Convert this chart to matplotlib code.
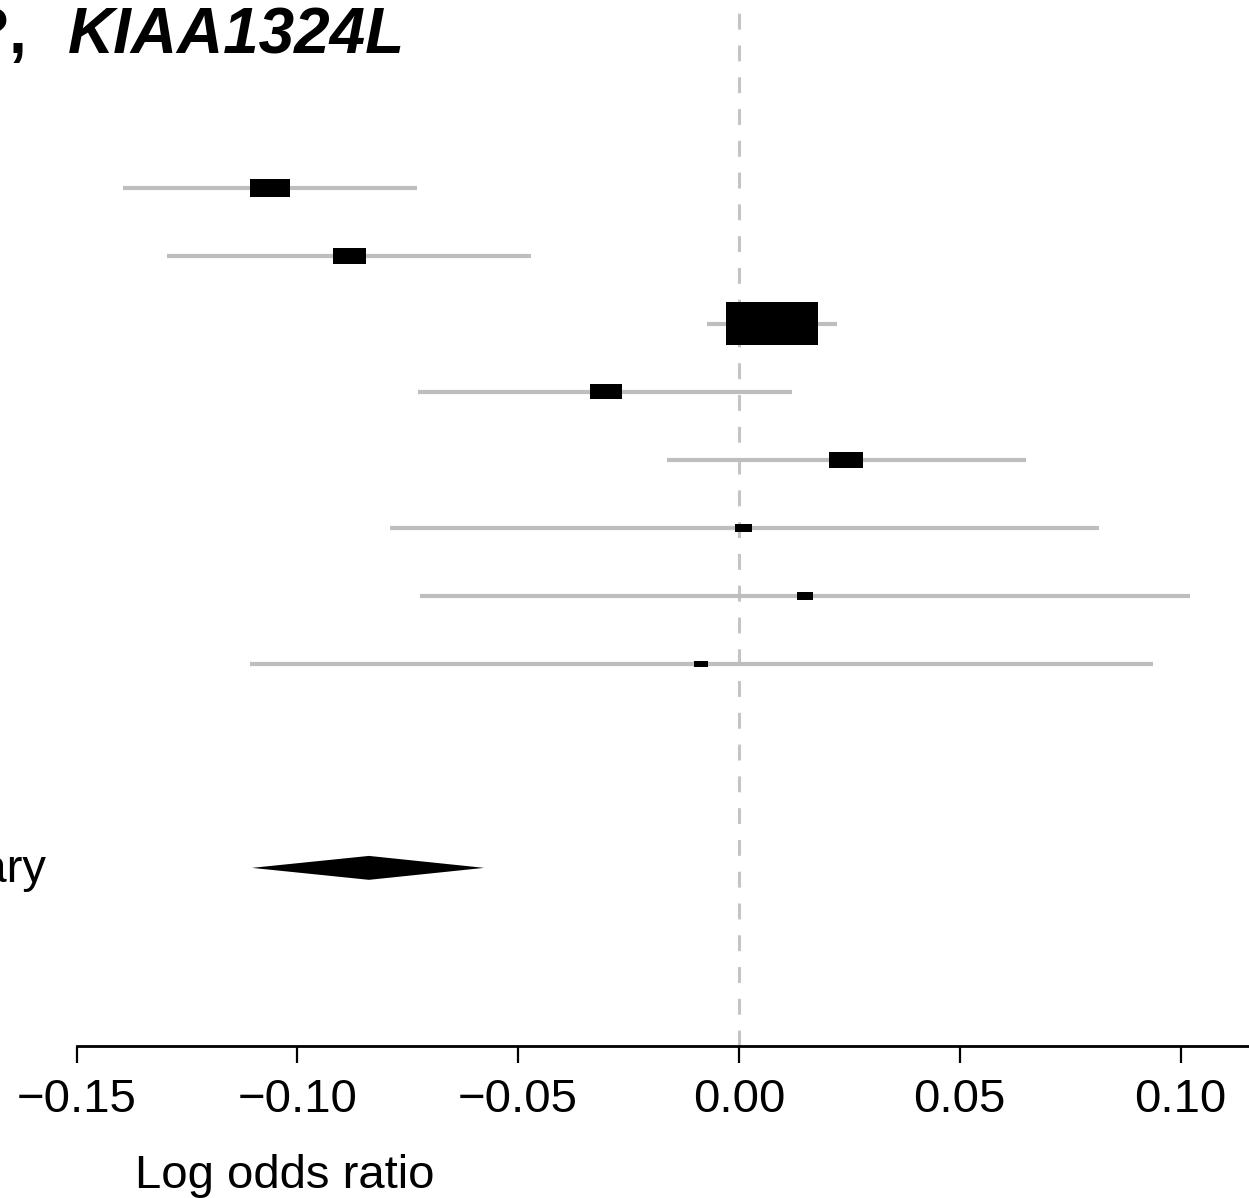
import numpy as np
import matplotlib
matplotlib.use("Agg")
import matplotlib.pyplot as plt
from matplotlib.patches import Rectangle, Polygon

plt.rcParams['font.family'] = ['Liberation Sans', 'DejaVu Sans']

# study estimates (log odds ratio) and 95% CI
est = [-0.1062, -0.0882, 0.0075, -0.0302, 0.0242, 0.0011, 0.0149, -0.0086]
lo = [-0.1395, -0.1295, -0.0072, -0.0727, -0.0163, -0.0790, -0.0722, -0.1107]
hi = [-0.0729, -0.0471, 0.0222, 0.0120, 0.0650, 0.0815, 0.1021, 0.0938]

# summary estimate
sum_est = -0.0838
sum_lo = -0.1103
sum_hi = -0.0577

xticks = [-0.15, -0.10, -0.05, 0.00, 0.05, 0.10]
xticklabels = ["\u22120.15", "\u22120.10", "\u22120.05", "0.00", "0.05", "0.10"]

W, H = 1249, 1198
fig = plt.figure(figsize=(W / 100, H / 100), dpi=100)
ax = fig.add_axes([0, 152 / H, 1, 1 - 152 / H])

# null line
ax.plot([0, 0], [13.62, -1.765], color="#c4c4c4", lw=2.2,
        dashes=(5.2, 5.2), zorder=1)

rows = np.arange(1, len(est) + 1)
se = (np.array(hi) - np.array(lo)) / (2 * 1.96)
for r, e, l, h, s in zip(rows, est, lo, hi, se):
    ax.plot([l, h], [r, r], color="#bebebe", lw=3.0, solid_capstyle="butt", zorder=2)
    bw = 1.5625e-4 / s
    bh = 0.00474 / s
    ax.add_patch(Rectangle((e - bw / 2, r - bh / 2), bw, bh,
                           facecolor="black", edgecolor="none", zorder=3))

# summary diamond
sr = 11
dh = 0.176
ax.add_patch(Polygon([[sum_lo, sr], [sum_est, sr - dh], [sum_hi, sr], [sum_est, sr + dh]],
                     closed=True, facecolor="black", edgecolor="none", zorder=3))

for s in ["top", "left", "right"]:
    ax.spines[s].set_visible(False)
ax.spines["bottom"].set_bounds(-0.15, 0.15)
ax.spines["bottom"].set_linewidth(2.0)
ax.set_yticks([])
ax.set_xticks(xticks)
ax.set_xticklabels(xticklabels)
ax.tick_params(axis="x", length=12, width=1.6, pad=11, labelsize=34)

# pixel mapping: 0 -> x=739, 4416 px per unit
ax.set_xlim((0 - 739) / 4416, (W - 739) / 4416)
ax.set_ylim(13.62, -1.765)

fig.text(135 / W, 1 - 1188 / H, "Log odds ratio", fontsize=34, ha="left", va="baseline")
fig.text(47 / W, 1 - 882 / H, "Summary", fontsize=34, ha="right", va="baseline")

fig.text(405 / W, 1 - 53 / H, "KIAA1324L", fontsize=46, fontweight="bold",
         fontstyle="italic", ha="right", va="baseline")
fig.text(27 / W, 1 - 53 / H, "?,", fontsize=46, fontweight="bold",
         ha="right", va="baseline")

fig.savefig("out.png", dpi=100)
